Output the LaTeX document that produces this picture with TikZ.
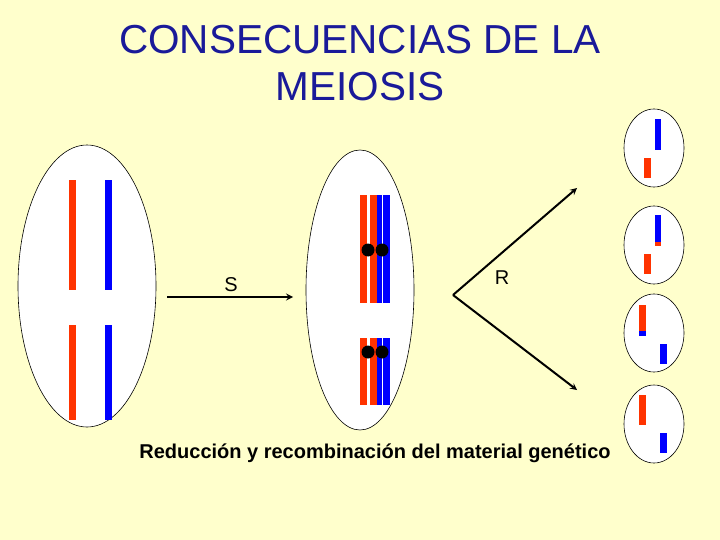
\documentclass[tikz,border=0pt]{standalone}
\usepackage{fontspec}
\setmainfont{Liberation Sans}
\usetikzlibrary{positioning}
\definecolor{bgyellow}{HTML}{FFFFCC}
\definecolor{chrred}{HTML}{FF3300}
\definecolor{chrblue}{HTML}{0000FF}
\definecolor{titleblue}{HTML}{1A1A99}
\tikzset{
cell/.style={draw=black, fill=white, line width=0.6pt}, % cell membranes
red chr/.style={fill=chrred, draw=none}, % maternal chromatids
blue chr/.style={fill=chrblue, draw=none}, % paternal chromatids
centro/.style={circle, fill=black, inner sep=0pt, minimum size=13pt}, % centromeres
division/.style={->, >=stealth, line width=2pt}, % division arrows
}
\begin{document}
\begin{tikzpicture}[x=1pt, y=-1pt]
\fill[bgyellow] (0,0) rectangle (720,540);
\node[titleblue, font=\fontsize{40.5}{47}\selectfont, align=center] (title) at (360,63) {CONSECUENCIAS DE LA\\MEIOSIS};
% initial cell
\draw[cell] (87,286) ellipse (69 and 141);
\fill[red chr] (69,180) rectangle (76,290);
\fill[red chr] (69,325) rectangle (76,420);
\fill[blue chr] (105,180) rectangle (112,290);
\fill[blue chr] (105,325) rectangle (112,420);
% cell after S phase
\draw[cell] (360,290) ellipse (54 and 140);
\foreach \y/\h in {195/303, 338/405} {
  \fill[red chr] (360,\y) rectangle (367,\h);
  \fill[red chr] (370,\y) rectangle (377,\h);
  \fill[blue chr] (377,\y) rectangle (382,\h);
  \fill[blue chr] (383,\y) rectangle (390,\h);
}
\node[centro] (c1) at (368,250) {};
\node[centro] (c2) at (382,250) {};
\node[centro] (c3) at (368,352) {};
\node[centro] (c4) at (382,352) {};
% arrows
\coordinate (sstart) at (167,297);
\coordinate (send) at (293,297);
\coordinate (rstart) at (453,295);
\coordinate (rup) at (577,188);
\coordinate (rdown) at (577,390);
\draw[division] (sstart) -- (send);
\draw[division] (rstart) -- (rup);
\draw[division] (rstart) -- (rdown);
\node[font=\fontsize{20}{22}\selectfont] (slabel) at (231,285) {S};
\node[font=\fontsize{20}{22}\selectfont] (rlabel) at (502,278) {R};
% gametes
\draw[cell] (654,148) ellipse (30 and 39);
\fill[blue chr] (655,119) rectangle (661,150);
\fill[red chr] (644,158) rectangle (651,178);
\draw[cell] (654,245) ellipse (30 and 39);
\fill[red chr] (655,241) rectangle (661,246);
\fill[blue chr] (655,215) rectangle (661,242);
\fill[red chr] (644,254) rectangle (651,274);
\draw[cell] (654,333) ellipse (30 and 39);
\fill[blue chr] (639,330) rectangle (646,336);
\fill[red chr] (639,305) rectangle (646,331);
\fill[blue chr] (660,344) rectangle (667,364);
\draw[cell] (654,424) ellipse (30 and 39);
\fill[red chr] (639,395) rectangle (646,425);
\fill[blue chr] (660,433) rectangle (667,453);
\node[font=\bfseries\fontsize{20}{22}\selectfont] (caption) at (375,453) {Reducción y recombinación del material genético};
\end{tikzpicture}
\end{document}
